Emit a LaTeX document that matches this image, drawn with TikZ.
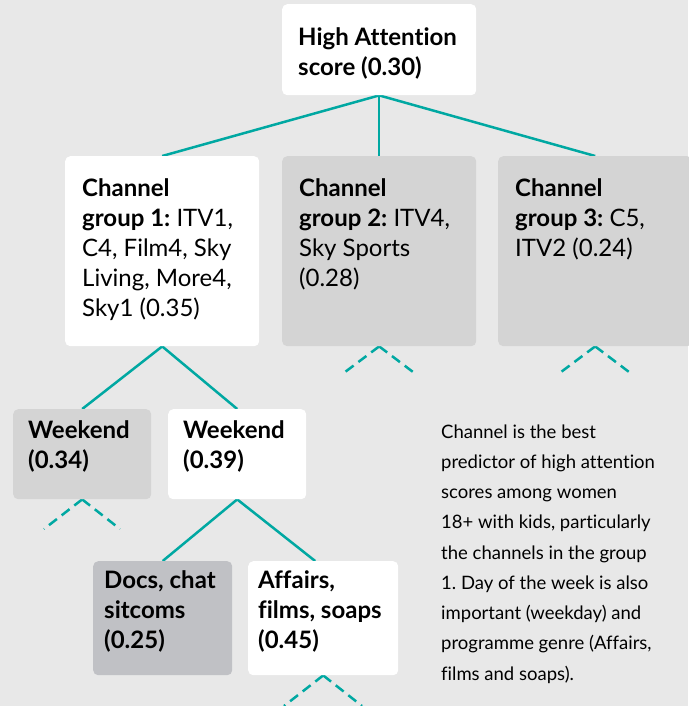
\documentclass[tikz,border=0pt]{standalone}
\usepackage{fontspec}
\setmainfont{Lato}[Ligatures=NoCommon]
\usepackage{xcolor}
\usepackage{tikz}
\usetikzlibrary{positioning}
\frenchspacing
\pgfdeclarelayer{background}
\pgfdeclarelayer{edgelayer}
\pgfdeclarelayer{nodelayer}
\pgfsetlayers{background,edgelayer,nodelayer,main}
\definecolor{treeteal}{RGB}{0,168,162}
\definecolor{pagegrey}{RGB}{232,232,232}
\definecolor{boxgrey}{RGB}{212,212,212}
\definecolor{boxdark}{RGB}{192,193,197}
% width, height, top gap, left gap, text
\newcommand{\boxtext}[5]{\parbox[t][#2][t]{#1}{\leftskip=#4\relax\vspace*{#3}\strut #5}}
\tikzstyle{treebox}=[rectangle,rounded corners=5pt,inner sep=0pt,anchor=north west,font=\fontsize{24}{30}\selectfont]
\tikzstyle{wb}=[treebox,fill=white]
\tikzstyle{gb}=[treebox,fill=boxgrey]
\tikzstyle{db}=[treebox,fill=boxdark]
\tikzstyle{branch}=[draw=treeteal,line width=2.5pt]
\tikzstyle{stub}=[branch,dash pattern=on 10pt off 6pt]

\begin{document}
\begin{tikzpicture}[x=1pt,y=-1pt]
	\useasboundingbox (0,0) rectangle (688,706);
	\begin{pgfonlayer}{background}
		\fill[pagegrey] (0,0) rectangle (688,706);
	\end{pgfonlayer}
	\begin{pgfonlayer}{nodelayer}
		\node [style=wb] (top) at (282,4) {\boxtext{194pt}{91pt}{20pt}{16pt}{\bfseries High Attention\\score (0.30)}};
		\node [style=wb] (g1) at (65,156) {\boxtext{194pt}{190pt}{19pt}{17pt}{{\bfseries Channel\\group 1:} ITV1,\\C4, Film4, Sky\\Living, More4,\\Sky1 (0.35)}};
		\node [style=gb] (g2) at (282,156) {\boxtext{194pt}{190pt}{19pt}{17pt}{{\bfseries Channel\\group 2:} ITV4,\\Sky Sports\\(0.28)}};
		\node [style=gb] (g3) at (498,156) {\boxtext{194pt}{190pt}{19pt}{17pt}{{\bfseries Channel\\group 3:} C5,\\ITV2 (0.24)}};
		\node [style=gb] (we1) at (13,409) {\boxtext{138pt}{90pt}{8pt}{15pt}{\bfseries Weekend\\(0.34)}};
		\node [style=wb] (we2) at (168,409) {\boxtext{138pt}{90pt}{8pt}{15pt}{\bfseries Weekend\\(0.39)}};
		\node [style=db] (docs) at (93,561) {\boxtext{139pt}{114pt}{6pt}{11pt}{\bfseries Docs, chat\\sitcoms\\(0.25)}};
		\node [style=wb] (aff) at (248,561) {\boxtext{150pt}{114pt}{6pt}{10pt}{\bfseries Affairs,\\films, soaps\\(0.45)}};
		\node [anchor=base west,inner sep=0pt,font=\fontsize{18.5}{30.25}\selectfont] (note) at (441,438) {\parbox[t]{250pt}{Channel is the best\\predictor of high attention\\scores among women\\18+ with kids, particularly\\the channels in the group\\1. Day of the week is also\\important (weekday) and\\programme genre (Affairs,\\films and soaps).}};
		\coordinate (g2l) at (341,375);
		\coordinate (g2r) at (417,375);
		\coordinate (g3l) at (557,375);
		\coordinate (g3r) at (633,375);
		\coordinate (we1l) at (44,529);
		\coordinate (we1r) at (120,529);
		\coordinate (affl) at (284,706);
		\coordinate (affr) at (362,706);
	\end{pgfonlayer}
	\begin{pgfonlayer}{edgelayer}
		\draw[style=branch] (top.south) -- (g1.north);
		\draw[style=branch] (top.south) -- (g2.north);
		\draw[style=branch] (top.south) -- (g3.north);
		\draw[style=branch] (g1.south) -- (we1.north);
		\draw[style=branch] (g1.south) -- (we2.north);
		\draw[style=branch] (we2.south) -- (docs.north);
		\draw[style=branch] (we2.south) -- (aff.98);
		\draw[style=stub] (g2.south) -- (g2l);
		\draw[style=stub] (g2.south) -- (g2r);
		\draw[style=stub] (g3.south) -- (g3l);
		\draw[style=stub] (g3.south) -- (g3r);
		\draw[style=stub] (we1.south) -- (we1l);
		\draw[style=stub] (we1.south) -- (we1r);
		\draw[style=stub] (aff.south) -- (affl);
		\draw[style=stub] (aff.south) -- (affr);
	\end{pgfonlayer}
\end{tikzpicture}
\end{document}
